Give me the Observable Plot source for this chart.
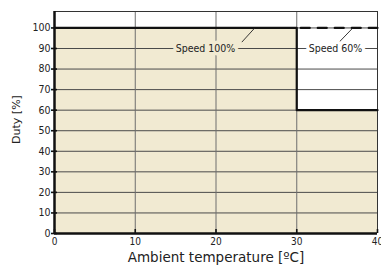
<!DOCTYPE html>
<html>
<head>
<meta charset="utf-8">
<script src="https://cdn.jsdelivr.net/npm/d3@7"></script>
<script src="https://cdn.jsdelivr.net/npm/@observablehq/plot@0.6"></script>
<style>
html, body { margin: 0; padding: 0; background: #fff; }
</style>
</head>
<body>
<div id="chart"></div>
<script>
// Data
const temperature = [0, 30, 40];           // ambient temperature [ºC]
const dutySpeed100 = [100, 60, 60];        // duty [%] (step-after)
const speed60X = [30, 40];
const speed60Y = [100, 100];
const xTicks = [0, 10, 20, 30, 40];
const yTicks = [0, 10, 20, 30, 40, 50, 60, 70, 80, 90, 100];
const gridX = [10, 20, 30];
const gridY = [10, 20, 30, 40, 50, 60, 70, 80, 90, 100];
const labelText = ["Speed 100%", "Speed 60%"];
const labelX = [18.7, 34.8];
const labelY = [90, 90];
const leaderX1 = [23.2, 35.2];
const leaderY1 = [93.1, 92.9];
const leaderX2 = [24.8, 36.9];
const leaderY2 = [100, 99.8];

const FILL = "#f1ead2";
const stepData = temperature.map((t, i) => ({x: t, y: dutySpeed100[i]}));
const dashData = speed60X.map((t, i) => ({x: t, y: speed60Y[i]}));
const labels = labelText.map((t, i) => ({t, x: labelX[i], y: labelY[i]}));
const leaders = labelText.map((t, i) => ({x1: leaderX1[i], y1: leaderY1[i], x2: leaderX2[i], y2: leaderY2[i]}));

const chart = Plot.plot({
  width: 381,
  height: 265,
  marginLeft: 54,
  marginRight: 4,
  marginTop: 11,
  marginBottom: 32,
  x: {domain: [0, 40]},
  y: {domain: [0, 108]},
  style: {fontFamily: "'DejaVu Sans Condensed', 'DejaVu Sans', sans-serif", fontSize: "10px", color: "#222", background: "#fff"},
  marks: [
    Plot.areaY(stepData, {x: "x", y: "y", curve: "step-after", fill: FILL}),
    Plot.ruleY(gridY, {stroke: "#4a4a4a", strokeWidth: 1}),
    Plot.ruleX(gridX, {y1: 0, y2: 108, stroke: "#6e6e6e", strokeWidth: 1}),
    Plot.ruleY([108], {stroke: "#333", strokeWidth: 1}),
    Plot.ruleX([40], {y1: 0, y2: 108, stroke: "#333", strokeWidth: 1}),
    Plot.line(dashData, {x: "x", y: "y", stroke: "#111", strokeWidth: 2.2, strokeDasharray: "9,8", strokeDashoffset: -4}),
    Plot.line(stepData, {x: "x", y: "y", curve: "step-after", stroke: "#111", strokeWidth: 2.2}),
    Plot.link(leaders, {x1: "x1", y1: "y1", x2: "x2", y2: "y2", stroke: "#222", strokeWidth: 0.9}),
    Plot.text([labels[0]], {x: "x", y: "y", text: "t", fill: "#222", stroke: FILL, strokeWidth: 7, fontSize: 10.5}),
    Plot.text([labels[1]], {x: "x", y: "y", text: "t", fill: "#222", stroke: "#fff", strokeWidth: 7, fontSize: 10.5}),
    Plot.ruleX([0], {y1: 0, y2: 108, stroke: "#111", strokeWidth: 2.5}),
    Plot.ruleY([0], {stroke: "#111", strokeWidth: 2.5}),
    Plot.axisY({ticks: yTicks, tickSize: 6, dx: 3, text: null, stroke: "#111", strokeWidth: 1.6, label: null}),
    Plot.axisY({ticks: yTicks, tickSize: 0, tickPadding: 4, fontSize: 10.5, label: null}),
    Plot.axisX({ticks: xTicks, tickSize: 0, tickPadding: 4, fontSize: 10, label: null, tickFormat: d => d}),
    Plot.axisX({ticks: xTicks, tickSize: 4, dy: -4, text: null, stroke: "#111", strokeWidth: 1.6, label: null}),
    Plot.text(["Ambient temperature [ºC]"], {frameAnchor: "bottom", lineAnchor: "middle", textAnchor: "middle", dy: 24, fontFamily: "'DejaVu Sans', sans-serif", fontSize: 13.5, fill: "#222"}),
    Plot.text(["Duty [%]"], {frameAnchor: "left", lineAnchor: "middle", textAnchor: "middle", dx: -38, dy: -3, rotate: -90, fontFamily: "'DejaVu Sans', sans-serif", fontSize: 11, fill: "#222"})
  ]
});
document.getElementById("chart").appendChild(chart);
</script>
</body>
</html>
